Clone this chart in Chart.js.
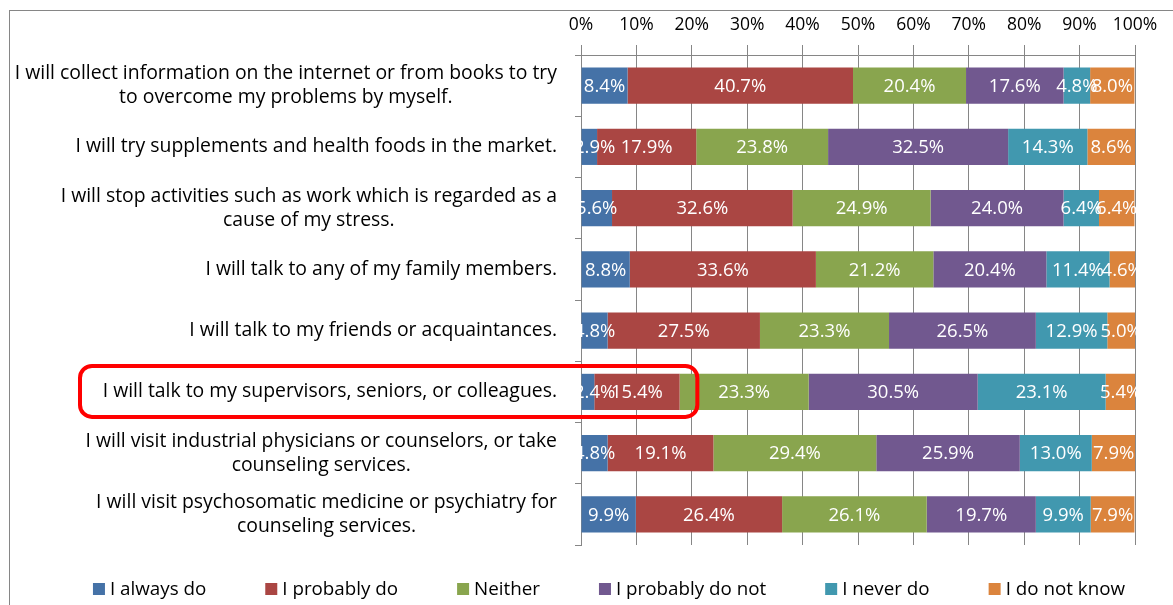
<!DOCTYPE html>
<html><head><meta charset="utf-8">
<script src="https://cdn.jsdelivr.net/npm/chart.js@4/dist/chart.umd.min.js"></script>
<style>
html,body{margin:0;padding:0;background:#fff;overflow:hidden}
#wrap{position:relative;width:1173px;height:605px;overflow:hidden}
#frame{position:absolute;left:9px;top:10px;width:1400px;height:900px;border:1px solid #868686;box-sizing:border-box}
canvas{position:absolute;left:0;top:0}
</style></head><body>
<div id="wrap"><div id="frame"></div><canvas id="c" width="1173" height="605"></canvas></div>
<script>
const categories = [
  ["I will collect information on the internet or from books to try", "to overcome my problems by myself."],
  ["I will try supplements and health foods in the market."],
  ["I will stop activities such as work which is regarded as a", "cause of my stress."],
  ["I will talk to any of my family members."],
  ["I will talk to my friends or acquaintances."],
  ["I will talk to my supervisors, seniors, or colleagues."],
  ["I will visit industrial physicians or counselors, or take", "counseling services."],
  ["I will visit psychosomatic medicine or psychiatry for", "counseling services."]
];
const seriesNames = ["I always do", "I probably do", "Neither", "I probably do not", "I never do", "I do not know"];
const alwaysDo    = [8.4, 2.9, 5.6, 8.8, 4.8, 2.4, 4.8, 9.9];
const probablyDo  = [40.7, 17.9, 32.6, 33.6, 27.5, 15.4, 19.1, 26.4];
const neither     = [20.4, 23.8, 24.9, 21.2, 23.3, 23.3, 29.4, 26.1];
const probablyNot = [17.6, 32.5, 24.0, 20.4, 26.5, 30.5, 25.9, 19.7];
const neverDo     = [4.8, 14.3, 6.4, 11.4, 12.9, 23.1, 13.0, 9.9];
const doNotKnow   = [8.0, 8.6, 6.4, 4.6, 5.0, 5.4, 7.9, 7.9];
const xTickLabels = ["0%","10%","20%","30%","40%","50%","60%","70%","80%","90%","100%"];
const highlightRow = 5;
const highlightTo = 21;

const colors = ["#4572A7", "#AA4643", "#89A54E", "#71588F", "#4198AF", "#DB843D"];
const seriesValues = [alwaysDo, probablyDo, neither, probablyNot, neverDo, doNotKnow];
const FONT = "'Open Sans'";
const GRID = "#868686";

const labelsPlugin = {
  id: "customDraw",
  afterDatasetsDraw(chart) {
    const ctx = chart.ctx;
    const left = chart.chartArea.left;
    ctx.save();
    ctx.font = "18.5px " + FONT;
    ctx.fillStyle = "#fff";
    ctx.textAlign = "center";
    ctx.textBaseline = "middle";
    chart.data.datasets.forEach((ds, di) => {
      const meta = chart.getDatasetMeta(di);
      meta.data.forEach((bar, i) => {
        const p = bar.getProps(["x", "base", "y"], true);
        const txt = ds.data[i].toFixed(1) + "%";
        const w = ctx.measureText(txt).width;
        const cx = Math.max((p.x + p.base) / 2, left + w / 2 - 7);
        ctx.fillText(txt, cx, p.y + 1);
      });
    });
    ctx.restore();
  },
  afterDraw(chart) {
    const ctx = chart.ctx;
    const ys = chart.scales.y, xs = chart.scales.x;
    ctx.save();
    // category labels
    ctx.font = "19.4px " + FONT;
    ctx.fillStyle = "#000";
    ctx.textAlign = "center";
    ctx.textBaseline = "middle";
    const right = ys.right - 24;
    categories.forEach((lines, i) => {
      const yc = ys.getPixelForValue(i);
      const maxW = Math.max(...lines.map(l => ctx.measureText(l).width));
      const cx = right - maxW / 2;
      lines.forEach((l, j) => ctx.fillText(l, cx, yc + (j - (lines.length - 1) / 2) * 24));
    });
    // legend
    ctx.font = "18.8px " + FONT;
    ctx.textAlign = "left";
    const gap = 59, box = 12, tpad = 5;
    const widths = seriesNames.map(n => box + tpad + ctx.measureText(n).width);
    const total = widths.reduce((a, b) => a + b, 0) + gap * (widths.length - 1);
    let x = 609 - total / 2;
    const ly = chart.chartArea.bottom + 44;
    seriesNames.forEach((n, i) => {
      ctx.fillStyle = colors[i];
      ctx.fillRect(x, ly - 6, box, box);
      ctx.fillStyle = "#000";
      ctx.fillText(n, x + box + tpad, ly + 1);
      x += widths[i] + gap;
    });
    // highlight box
    const yc = ys.getPixelForValue(highlightRow);
    const x0 = 80, x1 = xs.getPixelForValue(highlightTo);
    const y0 = yc - 26, y1 = yc + 25;
    ctx.strokeStyle = "#FF0000";
    ctx.lineWidth = 4;
    ctx.beginPath();
    ctx.roundRect(x0, y0, x1 - x0, y1 - y0, 12);
    ctx.stroke();
    ctx.restore();
  }
};

new Chart(document.getElementById("c"), {
  type: "bar",
  data: {
    labels: categories,
    datasets: seriesNames.map((n, i) => ({
      label: n,
      data: seriesValues[i],
      backgroundColor: colors[i],
      borderWidth: 0,
      barPercentage: 0.59,
      categoryPercentage: 1
    }))
  },
  options: {
    indexAxis: "y",
    responsive: false,
    animation: false,
    devicePixelRatio: 1,
    layout: { padding: { left: 0, right: 38, top: 0, bottom: 60 } },
    plugins: { legend: { display: false }, tooltip: { enabled: false } },
    scales: {
      x: {
        position: "top",
        stacked: true,
        min: 0, max: 100,
        ticks: {
          stepSize: 10,
          color: "#000",
          font: { family: "'Open Sans'", size: 17.5 },
          padding: 9,
          maxRotation: 0,
          callback: (v) => xTickLabels[Math.round(v / 10)]
        },
        grid: { color: GRID, tickLength: 10, lineWidth: 1 },
        border: { color: GRID },
        afterFit: (s) => { s.height = 55; }
      },
      y: {
        stacked: true,
        ticks: { display: false },
        grid: { drawOnChartArea: false, tickLength: 6, color: GRID, offset: true },
        border: { color: GRID },
        afterFit: (s) => { s.width = 581; }
      }
    }
  },
  plugins: [labelsPlugin]
});
</script>
</body></html>
